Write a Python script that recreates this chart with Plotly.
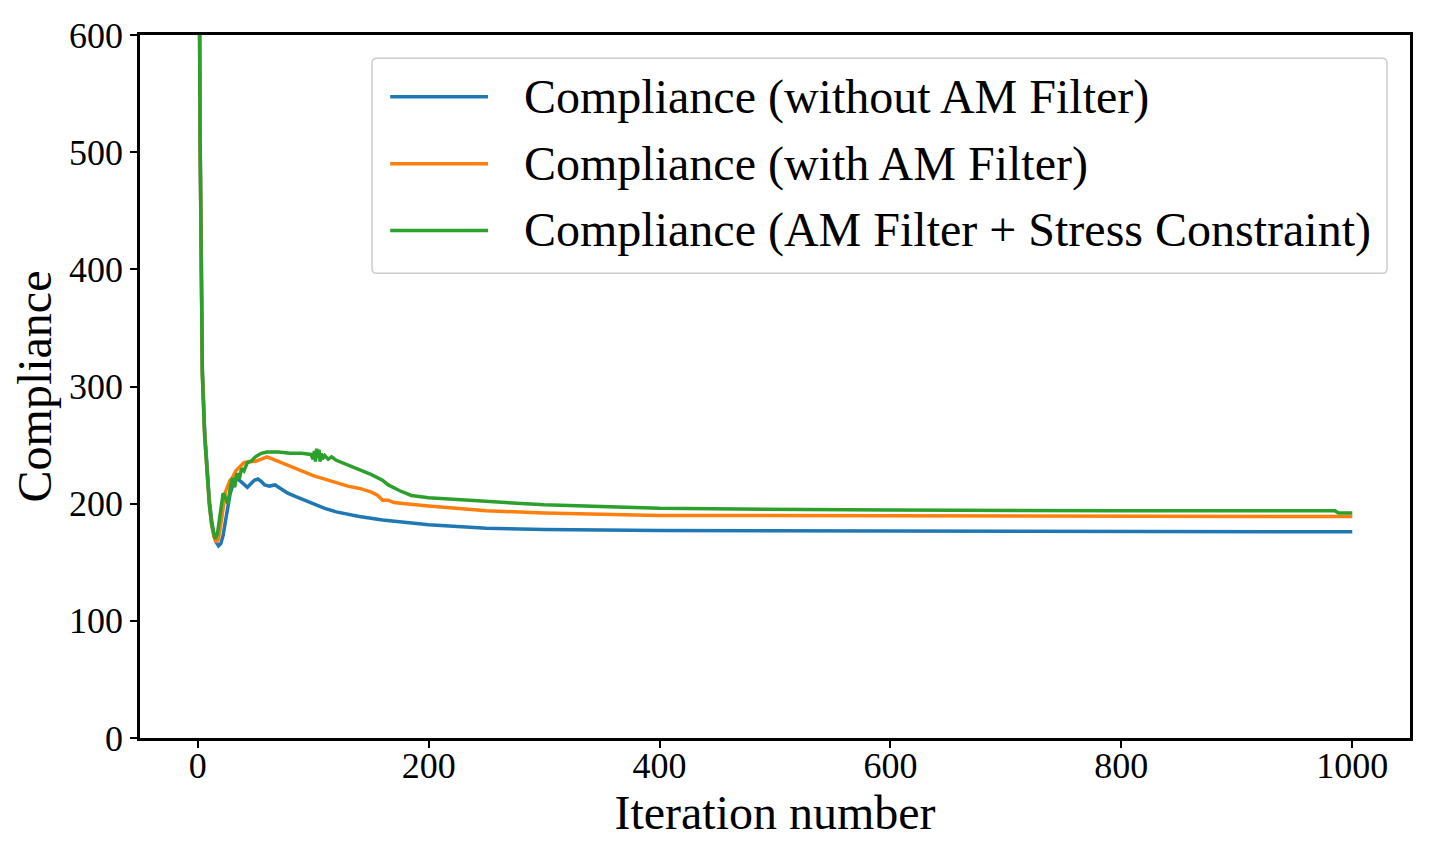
import plotly.graph_objects as go

series_names = [
    "Compliance (without AM Filter)",
    "Compliance (with AM Filter)",
    "Compliance (AM Filter + Stress Constraint)",
]
colors = ["#1f77b4", "#ff7f0e", "#2ca02c"]

blue_x = [0, 1, 2, 3, 4, 6, 8, 10, 12, 14, 16, 18, 20, 22, 24, 26, 28, 30, 33, 36, 40, 43, 46, 49, 52, 55, 58, 62, 67, 70, 74, 78, 85, 90, 100, 110, 120, 140, 160, 200, 250, 300, 400, 600, 800, 1000]
blue_y = [2000, 750, 520, 390, 315, 262, 228, 204, 186, 174, 167, 164, 166, 173, 185, 198, 208, 215, 222, 220, 216, 214, 217, 220, 221, 219, 216, 215, 216, 214, 211, 209, 206, 204, 200, 196, 193, 189, 186, 182, 179, 178, 177, 176.5, 176, 176]

orange_x = [0, 1, 2, 3, 4, 6, 8, 10, 12, 14, 16, 18, 20, 22, 24, 26, 28, 30, 33, 36, 40, 45, 50, 55, 60, 65, 70, 80, 90, 100, 110, 120, 130, 140, 150, 156, 160, 165, 170, 180, 200, 250, 300, 400, 600, 800, 1000]
orange_y = [2000, 740, 515, 385, 310, 258, 224, 200, 182, 172, 167, 170, 182, 198, 210, 215, 220, 222, 228, 231, 235, 236, 236, 238, 240, 238, 236, 232, 228, 224, 221, 218, 215, 213, 210, 207, 203, 203, 201, 200, 198, 194, 192, 190, 189.5, 189, 189]

green_x = [0, 1, 2, 3, 4, 6, 8, 10, 12, 14, 15, 17, 19, 21, 22, 24, 26, 28, 30, 32, 34, 36, 38, 40, 43, 46, 50, 55, 60, 70, 80, 90, 98, 100, 101, 102, 103, 104, 105, 106, 107, 108, 110, 113, 116, 120, 130, 140, 150, 160, 165, 175, 185, 200, 230, 300, 400, 600, 800, 985, 988, 1000]
green_y = [2000, 740, 515, 385, 310, 258, 224, 200, 183, 173, 170, 174, 188, 204, 209, 205, 200, 212, 222, 214, 226, 221, 230, 228, 235, 236, 240, 243, 244, 244, 243, 243, 242, 238, 245, 236, 247, 239, 246, 236, 243, 238, 241, 238, 240, 237, 233, 229, 225, 220, 216, 211, 207, 205, 203, 199, 196, 194.5, 194, 194, 192, 192]

xs = [blue_x, orange_x, green_x]
ys = [blue_y, orange_y, green_y]

x_ticks = [0, 200, 400, 600, 800, 1000]
y_ticks = [0, 100, 200, 300, 400, 500, 600]

FONT = "Liberation Serif"

fig = go.Figure()
for name, c, x, y in zip(series_names, colors, xs, ys):
    fig.add_trace(go.Scatter(x=x, y=y, mode="lines", name=name,
                             line=dict(color=c, width=3.5), showlegend=False))

# custom legend (matplotlib style)
x0, x1, y0, y1 = 0.1827, 0.9819, 0.661, 0.967
rx, ry = 0.004, 0.007
path = (f"M {x0+rx},{y0} L {x1-rx},{y0} Q {x1},{y0} {x1},{y0+ry} "
        f"L {x1},{y1-ry} Q {x1},{y1} {x1-rx},{y1} L {x0+rx},{y1} "
        f"Q {x0},{y1} {x0},{y1-ry} L {x0},{y0+ry} Q {x0},{y0} {x0+rx},{y0} Z")
shapes = [dict(type="path", path=path, xref="paper", yref="paper",
               line=dict(color="#cccccc", width=1.5), fillcolor="rgba(255,255,255,0.8)", layer="above")]
annotations = []
entry_y = [0.912, 0.817, 0.722]
for name, c, ey in zip(series_names, colors, entry_y):
    shapes.append(dict(type="line", xref="paper", yref="paper", x0=0.197, x1=0.274,
                       y0=ey, y1=ey, line=dict(color=c, width=3.5), layer="above"))
    annotations.append(dict(text=name, xref="paper", yref="paper", x=0.301, y=ey,
                            xanchor="left", yanchor="middle", showarrow=False,
                            font=dict(family=FONT, size=48, color="black")))

fig.update_layout(
    width=1432, height=859,
    margin=dict(l=132, r=30, t=27, b=129),
    plot_bgcolor="white", paper_bgcolor="white",
    font=dict(family=FONT, color="black"),
    shapes=shapes, annotations=annotations,
)
fig.update_xaxes(range=[-50, 1050], tickvals=x_ticks, ticks="outside", ticklen=7, tickwidth=1.5,
                 tickcolor="black", showgrid=False, zeroline=False, showline=True, mirror=True,
                 linecolor="black", linewidth=2.5, tickfont=dict(size=36, family=FONT),
                 ticklabelstandoff=-13, automargin=False,
                 title=dict(text="Iteration number", font=dict(size=48, family=FONT), standoff=0))
fig.update_yaxes(range=[0, 600], tickvals=y_ticks, ticks="outside", ticklen=7, tickwidth=1.5,
                 tickcolor="black", showgrid=False, zeroline=False, showline=True, mirror=True,
                 linecolor="black", linewidth=2.5, tickfont=dict(size=36, family=FONT),
                 automargin=False,
                 title=dict(text="Compliance", font=dict(size=48, family=FONT), standoff=6))

fig.write_html("out.html")
